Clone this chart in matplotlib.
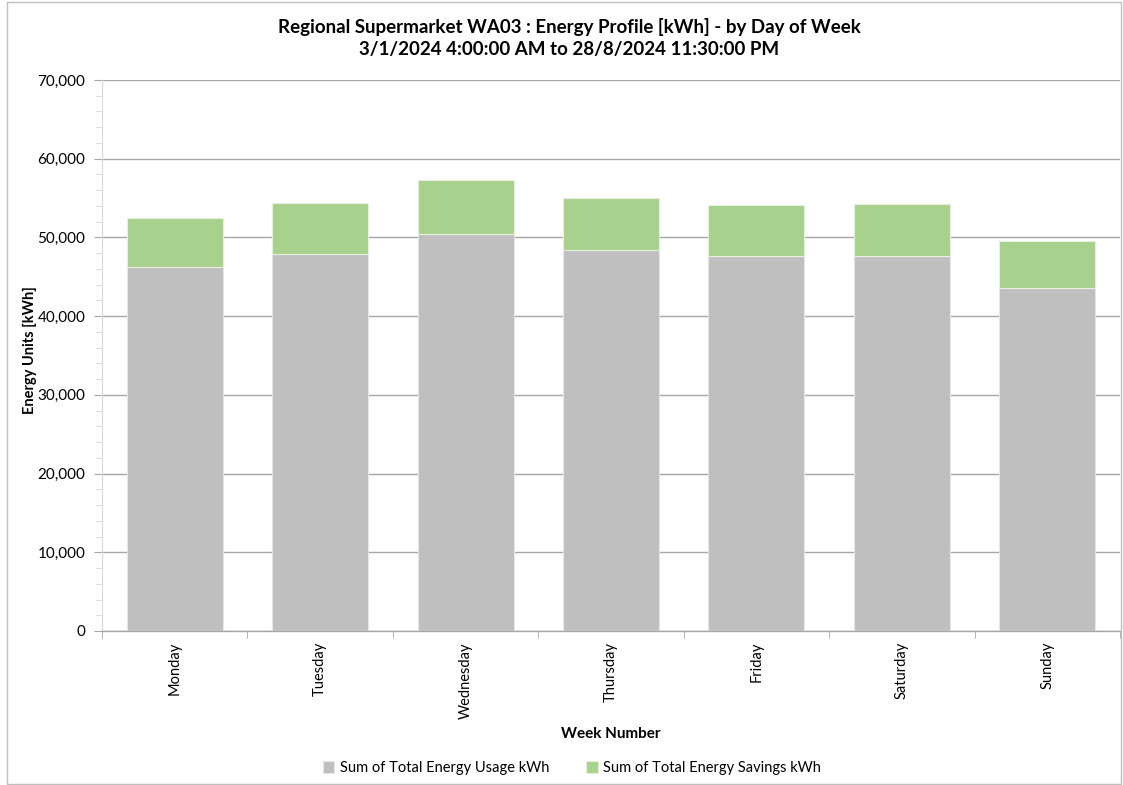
import matplotlib
matplotlib.use("Agg")
import matplotlib.pyplot as plt
import numpy as np
from matplotlib.ticker import FuncFormatter, MultipleLocator, FixedLocator
from matplotlib.patches import Rectangle

days = ["Monday", "Tuesday", "Wednesday", "Thursday", "Friday", "Saturday", "Sunday"]
usage = [46270, 47840, 50470, 48380, 47580, 47580, 43600]
savings = [6230, 6480, 6780, 6580, 6490, 6620, 5930]

plt.rcParams['font.family'] = ['Lato', 'DejaVu Sans']

fig = plt.figure(figsize=(11.23, 7.85), dpi=100)
ax = fig.add_axes([102/1123, 1-631/785, (1120-102)/1123, (631-80)/785])

x = np.arange(len(days))
w = 0.66
ax.bar(x, usage, w, color="#bfbfbf", edgecolor="#e6e6e6", linewidth=0.8,
       label="Sum of Total Energy Usage kWh", zorder=3)
ax.bar(x, savings, w, bottom=usage, color="#a9d18e", edgecolor="#e6f0dc", linewidth=0.8,
       label="Sum of Total Energy Savings kWh", zorder=3)

ax.set_xlim(-0.5, len(days) - 0.5)
ax.set_ylim(0, 70000)
ax.yaxis.set_major_locator(MultipleLocator(10000))
ax.yaxis.set_minor_locator(MultipleLocator(2000))
ax.yaxis.set_major_formatter(FuncFormatter(lambda v, p: f"{int(v):,}"))
ax.grid(axis="y", which="major", color="#a6a6a6", linewidth=1.0, zorder=0)

ax.set_xticks(x)
ax.set_xticklabels(days, rotation=90, fontsize=10.5)
ax.xaxis.set_minor_locator(FixedLocator(np.arange(-0.5, len(days), 1.0)))
ax.tick_params(axis="x", which="major", length=0, pad=8)
ax.tick_params(axis="x", which="minor", length=5, color="#a6a6a6", direction="out")
ax.tick_params(axis="y", which="major", length=6, color="#a6a6a6", labelsize=11, pad=6)
ax.tick_params(axis="y", which="minor", length=5, color="#d9d9d9")

for s in ["top", "right"]:
    ax.spines[s].set_visible(False)
ax.spines["left"].set_color("#d9d9d9")
ax.spines["bottom"].set_color("#a6a6a6")
ax.spines["bottom"].set_linewidth(1.0)

ax.set_xlabel("Week Number", fontsize=11, fontweight="bold", labelpad=6)
ax.set_ylabel("Energy Units [kWh]", fontsize=10.5, fontweight="bold")
ax.yaxis.set_label_coords((37 - 102) / 1018, (631 - 350) / 551)

fig.text(569/1123, 1-27/785, "Regional Supermarket WA03 : Energy Profile [kWh] - by Day of Week",
         ha="center", va="center", fontsize=13.5, fontweight="bold")
fig.text(569/1123, 1-50/785, "3/1/2024 4:00:00 AM to 28/8/2024 11:30:00 PM",
         ha="center", va="center", fontsize=13.5, fontweight="bold")

fig.legend(loc="center", bbox_to_anchor=(572/1123, 1-768/785), ncol=2, frameon=False,
           fontsize=10.5, handlelength=0.8, handleheight=0.8, columnspacing=2.5, handletextpad=0.4)

fig.patches.append(Rectangle((7/1123, 1/785), (1121-7)/1123, (783-1)/785, transform=fig.transFigure,
                             fill=False, edgecolor="#bfbfbf", linewidth=1.0))

fig.savefig("out.png", dpi=100)
